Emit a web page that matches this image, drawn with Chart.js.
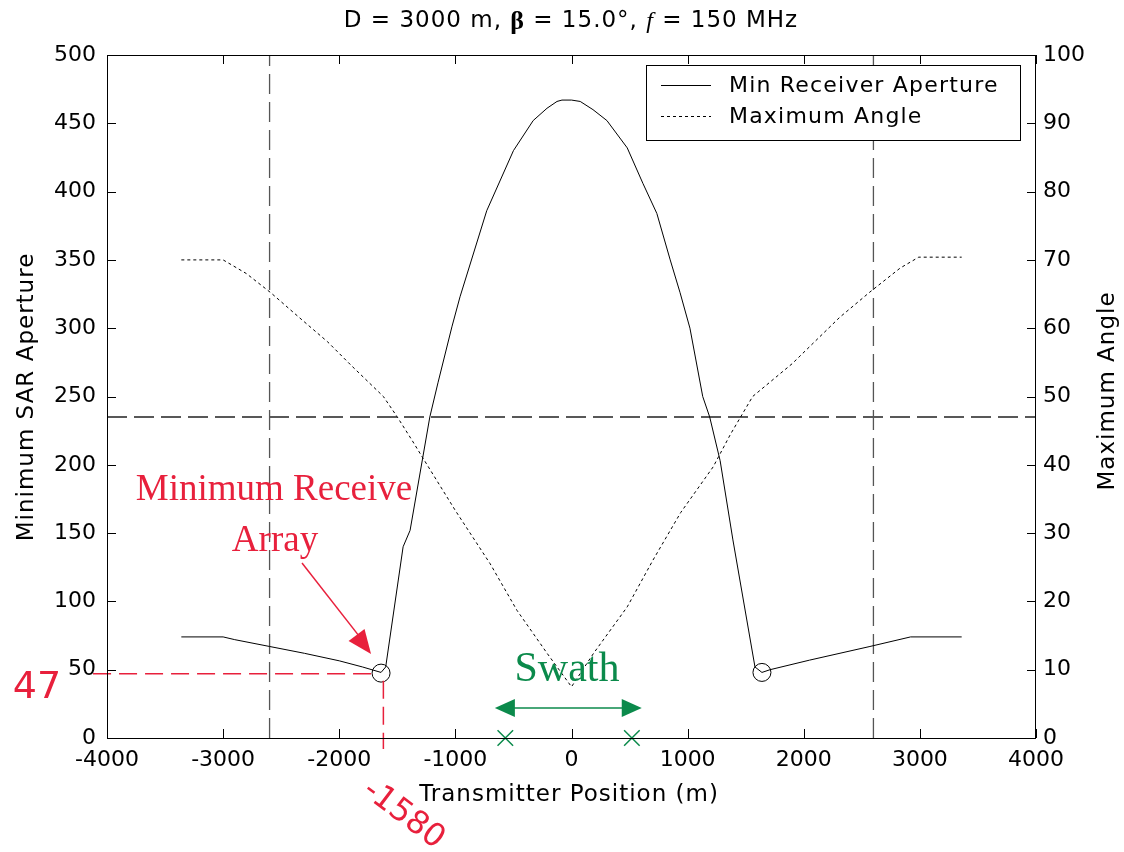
<!DOCTYPE html>
<html>
<head>
<meta charset="utf-8">
<script src="https://cdn.jsdelivr.net/npm/chart.js@4/dist/chart.umd.min.js"></script>
<style>
  html, body { margin: 0; padding: 0; background: #fff; }
  canvas { display: block; }
</style>
</head>
<body>
<canvas id="chart" width="1124" height="852"></canvas>
<script>
// Min receiver aperture (left axis) vs transmitter position
const apertureX = [-3360, -3000, -2900, -2600, -2300, -2000, -1800, -1640, -1600, -1450, -1390, -1220, -1150, -1030, -960, -730, -500, -330, -211, -125, -82, 0, 75, 185, 305, 480, 615, 735, 850, 935, 1020, 1130, 1190, 1280, 1390, 1580, 1640, 1710, 2050, 2570, 2920, 3360];
const apertureY = [74, 74, 72, 67, 62, 56.5, 52, 48, 52, 140, 152, 235, 260, 301, 323, 386, 430, 452, 461, 466, 467, 467, 466, 460, 452, 432, 406, 384, 350, 326, 300, 250, 235, 203, 145, 52, 48, 50, 57, 67, 74, 74];

// Maximum angle (right axis)
const angleX = [-3360, -3000, -2800, -2590, -2340, -2100, -1900, -1620, -1500, -1370, -1280, -1000, -700, -470, -210, 0, 190, 480, 700, 940, 1220, 1370, 1560, 1900, 2310, 2570, 2830, 2990, 3360];
const angleY = [70, 70, 68, 65.2, 61.5, 58, 54.6, 50, 47, 43.5, 41, 33.3, 25.5, 18.7, 12.4, 7.5, 12.4, 19.2, 26, 33, 39.7, 44.5, 50, 54.8, 61.6, 65.3, 68.8, 70.4, 70.4];

// marked minima, swath edges, reference lines
const minPointsX = [-1640, 1640];
const minPointsY = [47.5, 48];
const swathX = [-570, 520];
const swathArrowX = [-660, 605];
const swathArrowY = 22;
const edgeLinesX = [-2600, 2600];
const thresholdY = 235;
const markedValue = 47;
const markedPos = -1620;

const xTicks = [-4000, -3000, -2000, -1000, 0, 1000, 2000, 3000, 4000];
const leftTicks = [0, 50, 100, 150, 200, 250, 300, 350, 400, 450, 500];
const rightTicks = [0, 10, 20, 30, 40, 50, 60, 70, 80, 90, 100];

const RED = '#e8203c';
const GREEN = '#0b8a4b';
const FONT = "'DejaVu Sans', sans-serif";
const SERIF = "'Liberation Serif', 'DejaVu Serif', serif";

function pts(xs, ys) { return xs.map((x, i) => ({ x: x, y: ys[i] })); }

const datasets = [
  { data: pts(apertureX, apertureY), yAxisID: 'y', borderColor: '#000', borderWidth: 1, showLine: true, pointRadius: 0 },
  { data: pts(angleX, angleY), yAxisID: 'y2', borderColor: '#000', borderWidth: 1, borderDash: [3, 3], showLine: true, pointRadius: 0 },
  { data: [{ x: edgeLinesX[0], y: 0 }, { x: edgeLinesX[0], y: 500 }], yAxisID: 'y', borderColor: '#555', borderWidth: 1.3, borderDash: [20, 8], showLine: true, pointRadius: 0 },
  { data: [{ x: edgeLinesX[1], y: 0 }, { x: edgeLinesX[1], y: 500 }], yAxisID: 'y', borderColor: '#555', borderWidth: 1.3, borderDash: [20, 8], showLine: true, pointRadius: 0 },
  { data: [{ x: -4000, y: thresholdY }, { x: 4000, y: thresholdY }], yAxisID: 'y', borderColor: '#222', borderWidth: 1.4, borderDash: [20, 7], showLine: true, pointRadius: 0 },
  // red guide to the minimum
  { data: [{ x: -4120, y: markedValue }, { x: -1700, y: markedValue }], yAxisID: 'y', borderColor: RED, borderWidth: 1.5, borderDash: [18, 8], showLine: true, pointRadius: 0, clip: false },
  { data: [{ x: markedPos, y: 42 }, { x: markedPos, y: -8 }], yAxisID: 'y', borderColor: RED, borderWidth: 1.5, borderDash: [18, 8], showLine: true, pointRadius: 0, clip: false },
  { data: pts(minPointsX, minPointsY), yAxisID: 'y', pointStyle: 'circle', pointRadius: 9, borderColor: '#000', borderWidth: 1, backgroundColor: 'rgba(0,0,0,0)', clip: false },
  { data: swathX.map(x => ({ x: x, y: 0 })), yAxisID: 'y', pointStyle: 'crossRot', pointRadius: 11, borderColor: GREEN, borderWidth: 1.5, clip: false }
];

function arrowHead(ctx, x1, y1, x2, y2, len, half, color) {
  const a = Math.atan2(y2 - y1, x2 - x1);
  ctx.fillStyle = color;
  ctx.beginPath();
  ctx.moveTo(x2, y2);
  ctx.lineTo(x2 - len * Math.cos(a) + half * Math.sin(a), y2 - len * Math.sin(a) - half * Math.cos(a));
  ctx.lineTo(x2 - len * Math.cos(a) - half * Math.sin(a), y2 - len * Math.sin(a) + half * Math.cos(a));
  ctx.closePath();
  ctx.fill();
}

const decorations = {
  id: 'decorations',
  afterDraw(chart) {
    const ctx = chart.ctx;
    const a = chart.chartArea;
    const sx = chart.scales.x, sy = chart.scales.y, sy2 = chart.scales.y2;
    ctx.save();

    // frame and inward ticks
    ctx.strokeStyle = '#000';
    ctx.lineWidth = 1;
    ctx.strokeRect(a.left + 0.5, a.top + 0.5, a.right - a.left - 1, a.bottom - a.top);
    ctx.beginPath();
    xTicks.forEach(v => {
      const px = Math.round(sx.getPixelForValue(v)) + 0.5;
      ctx.moveTo(px, a.bottom); ctx.lineTo(px, a.bottom - 9);
      ctx.moveTo(px, a.top); ctx.lineTo(px, a.top + 9);
    });
    leftTicks.forEach(v => {
      const py = Math.round(sy.getPixelForValue(v)) + 0.5;
      ctx.moveTo(a.left, py); ctx.lineTo(a.left + 9, py);
    });
    rightTicks.forEach(v => {
      const py = Math.round(sy2.getPixelForValue(v)) + 0.5;
      ctx.moveTo(a.right, py); ctx.lineTo(a.right - 9, py);
    });
    ctx.stroke();

    // title with italic f
    ctx.fillStyle = '#000';
    ctx.textBaseline = 'middle';
    ctx.letterSpacing = '1px';
    const t1 = 'D = 3000 m, ', tb = '\u03B2', t2 = ' = 15.0\u00B0, ', tf = 'f', t3 = ' = 150 MHz';
    ctx.font = '23px ' + FONT;
    const w1 = ctx.measureText(t1).width, w2 = ctx.measureText(t2).width, w3 = ctx.measureText(t3).width;
    ctx.font = 'bold 26px ' + SERIF;
    const wb = ctx.measureText(tb).width;
    ctx.font = 'italic 24px ' + SERIF;
    const wf = ctx.measureText(tf).width;
    let tx = 571 - (w1 + wb + w2 + wf + w3) / 2;
    const ty = 21;
    ctx.textAlign = 'left';
    ctx.font = '23px ' + FONT; ctx.fillText(t1, tx, ty); tx += w1;
    ctx.font = 'bold 26px ' + SERIF; ctx.fillText(tb, tx, ty + 1); tx += wb;
    ctx.font = '23px ' + FONT; ctx.fillText(t2, tx, ty); tx += w2;
    ctx.font = 'italic 24px ' + SERIF; ctx.fillText(tf, tx, ty + 1); tx += wf;
    ctx.font = '23px ' + FONT; ctx.fillText(t3, tx, ty);

    // axis titles
    ctx.font = '23px ' + FONT;
    ctx.textAlign = 'center';
    ctx.fillText('Transmitter Position (m)', 569, 795);
    ctx.save();
    ctx.translate(27, 397); ctx.rotate(-Math.PI / 2);
    ctx.fillText('Minimum SAR Aperture', 0, 0);
    ctx.restore();
    ctx.save();
    ctx.translate(1108, 391); ctx.rotate(-Math.PI / 2);
    ctx.fillText('Maximum Angle', 0, 0);
    ctx.restore();

    // legend
    ctx.fillStyle = '#fff';
    ctx.fillRect(646, 65, 374, 75);
    ctx.strokeStyle = '#000';
    ctx.lineWidth = 1;
    ctx.strokeRect(646.5, 65.5, 374, 75);
    ctx.beginPath(); ctx.moveTo(661, 85.5); ctx.lineTo(711, 85.5); ctx.stroke();
    ctx.setLineDash([3, 3]);
    ctx.beginPath(); ctx.moveTo(661, 116.5); ctx.lineTo(711, 116.5); ctx.stroke();
    ctx.setLineDash([]);
    ctx.fillStyle = '#000';
    ctx.textAlign = 'left';
    ctx.font = '22px ' + FONT;
    ctx.letterSpacing = '1.2px';
    ctx.fillText('Min Receiver Aperture', 729, 86);
    ctx.fillText('Maximum Angle', 729, 117);
    ctx.letterSpacing = '0px';

    // red annotation
    const mx = sx.getPixelForValue(minPointsX[0]);
    const my = sy.getPixelForValue(minPointsY[0]);
    ctx.fillStyle = RED;
    ctx.font = '37px ' + SERIF;
    ctx.textAlign = 'center';
    ctx.textBaseline = 'alphabetic';
    ctx.fillText('Minimum Receive', 274, 500);
    ctx.fillText('Array', 275, 551);
    ctx.strokeStyle = RED;
    ctx.lineWidth = 1.5;
    ctx.beginPath(); ctx.moveTo(302, 563); ctx.lineTo(mx - 18, my - 32); ctx.stroke();
    arrowHead(ctx, 302, 563, mx - 10, my - 19, 24, 10, RED);
    ctx.font = '38px ' + FONT;
    ctx.textBaseline = 'middle';
    ctx.fillText('47', 37, 688);
    ctx.save();
    ctx.translate(sx.getPixelForValue(markedPos) + 20, 815);
    ctx.rotate(37 * Math.PI / 180);
    ctx.font = '32px ' + FONT;
    ctx.fillText('-1580', 0, 0);
    ctx.restore();

    // swath annotation
    const s1 = sx.getPixelForValue(swathArrowX[0]);
    const s2 = sx.getPixelForValue(swathArrowX[1]);
    const sArrowY = sy.getPixelForValue(swathArrowY);
    ctx.fillStyle = GREEN;
    ctx.strokeStyle = GREEN;
    ctx.font = '42px ' + SERIF;
    ctx.textAlign = 'center';
    ctx.textBaseline = 'alphabetic';
    ctx.fillText('Swath', 567, 681);
    ctx.lineWidth = 1.5;
    ctx.beginPath(); ctx.moveTo(s1 + 10, sArrowY); ctx.lineTo(s2 - 10, sArrowY); ctx.stroke();
    arrowHead(ctx, s2, sArrowY, s1, sArrowY, 20, 9, GREEN);
    arrowHead(ctx, s1, sArrowY, s2, sArrowY, 20, 9, GREEN);

    ctx.restore();
  }
};

const tickFont = { family: FONT, size: 22 };

new Chart(document.getElementById('chart'), {
  type: 'scatter',
  data: { datasets: datasets },
  options: {
    responsive: false,
    animation: false,
    layout: { padding: { top: 55, left: 0, right: 0, bottom: 0 } },
    plugins: { legend: { display: false }, tooltip: { enabled: false }, title: { display: false } },
    scales: {
      x: {
        type: 'linear', min: -4000, max: 4000,
        afterBuildTicks: s => { s.ticks = xTicks.map(v => ({ value: v })); },
        afterFit: s => { s.height = 114; },
        grid: { display: false, drawTicks: false },
        border: { display: false },
        ticks: { color: '#000', font: tickFont, padding: 9, maxRotation: 0, callback: v => String(v) }
      },
      y: {
        type: 'linear', position: 'left', min: 0, max: 500,
        afterBuildTicks: s => { s.ticks = leftTicks.map(v => ({ value: v })); },
        afterFit: s => { s.width = 107; },
        grid: { display: false, drawTicks: false },
        border: { display: false },
        ticks: { color: '#000', font: tickFont, padding: 11, callback: v => String(v) }
      },
      y2: {
        type: 'linear', position: 'right', min: 0, max: 100,
        afterBuildTicks: s => { s.ticks = rightTicks.map(v => ({ value: v })); },
        afterFit: s => { s.width = 88; },
        grid: { display: false, drawTicks: false },
        border: { display: false },
        ticks: { color: '#000', font: tickFont, padding: 7, callback: v => String(v) }
      }
    }
  },
  plugins: [decorations]
});
</script>
</body>
</html>
